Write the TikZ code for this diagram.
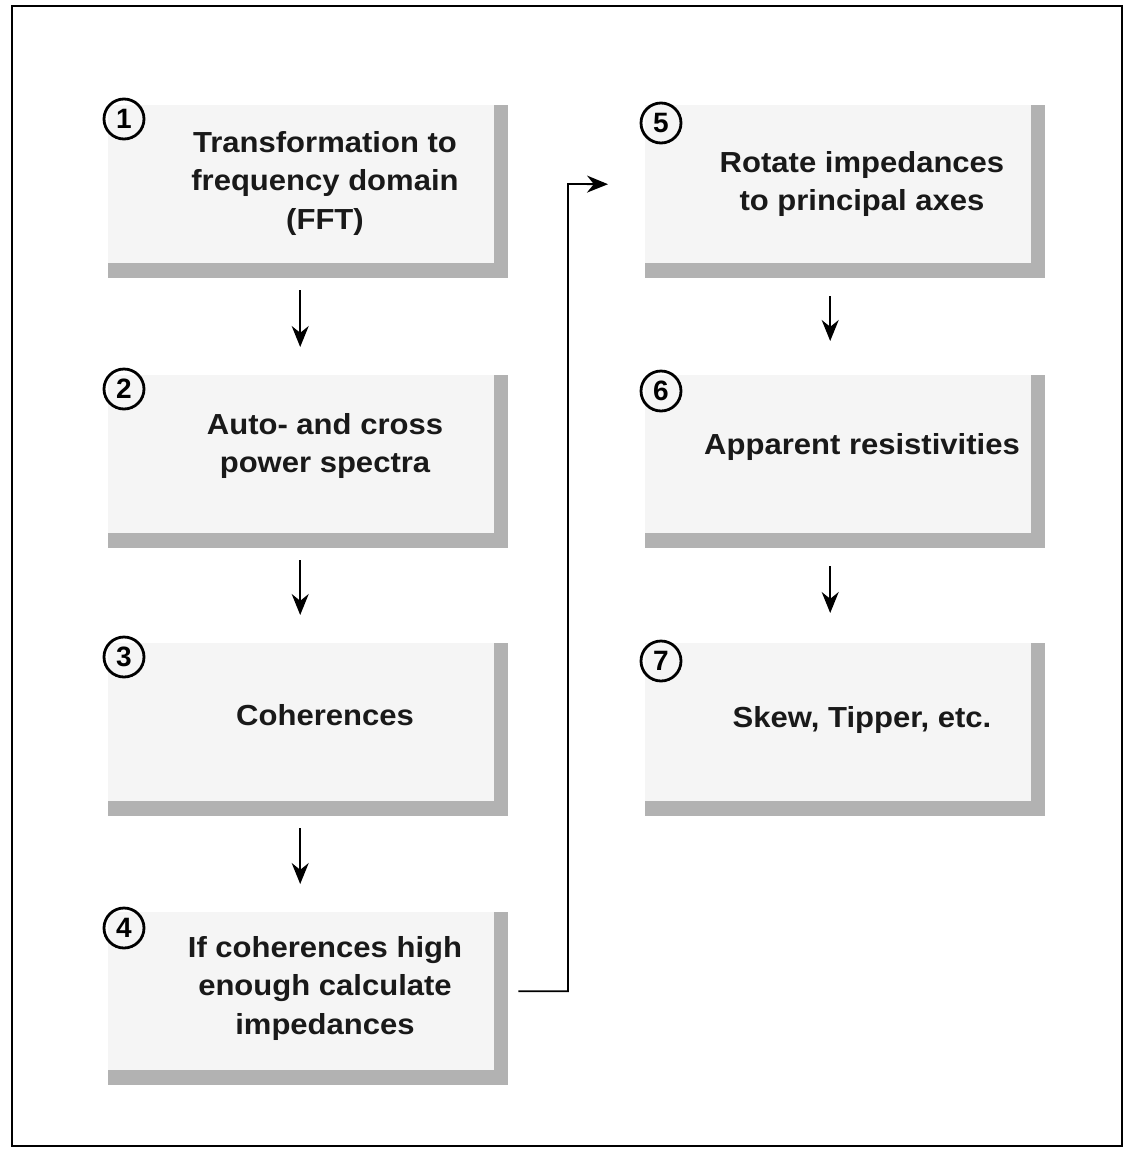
\documentclass[tikz,border=0pt]{standalone}
\usepackage{fontspec}
\setmainfont{Liberation Sans}
\newfontfamily\stretchfont[FakeStretch=1.07]{Liberation Sans}
\usetikzlibrary{arrows.meta}
\begin{document}
\begin{tikzpicture}[x=1pt,y=-1pt,
  stepbox/.style={fill=black!4, draw=none, minimum width=386pt, minimum height=158pt, inner sep=0pt, anchor=north west},
  steplabel/.style={font=\stretchfont\bfseries\fontsize{29}{38.5}\selectfont, align=center, text=black!90},
  num/.style={circle, draw, line width=2.8pt, minimum size=40pt, inner sep=0pt, font=\bfseries\fontsize{28}{28}\selectfont},
  arr/.style={line width=1.8pt, -{Stealth[length=21pt,width=17pt]}},
  shade/.style={fill=black!30}]
\useasboundingbox (0,0) rectangle (1124,1149);
\fill[white] (0,0) rectangle (1124,1149);
\draw[line width=2pt] (12,6) rectangle (1122,1146);

% boxes
\node[stepbox] (b1) at (108,105) {};
\node[stepbox] (b2) at (108,375) {};
\node[stepbox] (b3) at (108,643) {};
\node[stepbox] (b4) at (108,912) {};
\node[stepbox] (b5) at (645,105) {};
\node[stepbox] (b6) at (645,375) {};
\node[stepbox] (b7) at (645,643) {};

\foreach \b in {b1,b2,b3,b4,b5,b6,b7}{
  \fill[shade] (\b.north east) rectangle ([shift={(14,15)}]\b.south east);
  \fill[shade] (\b.south west) rectangle ([shift={(14,15)}]\b.south east);
}

% numbers
\node[num] (n1) at ([shift={(16,14)}]b1.north west) {1};
\node[num] (n2) at ([shift={(16,14)}]b2.north west) {2};
\node[num] (n3) at ([shift={(16,14)}]b3.north west) {3};
\node[num] (n4) at ([shift={(16,16)}]b4.north west) {4};
\node[num] (n5) at ([shift={(16,18)}]b5.north west) {5};
\node[num] (n6) at ([shift={(16,16)}]b6.north west) {6};
\node[num] (n7) at ([shift={(16,18)}]b7.north west) {7};

% texts
\node[steplabel] (t1) at (325,183) {Transformation to\\frequency domain\\(FFT)};
\node[steplabel] (t2) at (325,446) {Auto- and cross\\power spectra};
\node[steplabel] (t3) at (325,715) {Coherences};
\node[steplabel] (t4) at (325,988) {If coherences high\\enough calculate\\impedances};
\node[steplabel] (t5) at (862,184) {Rotate impedances\\to principal axes};
\node[steplabel] (t6) at (862,447) {Apparent resistivities};
\node[steplabel] (t7) at (862,720) {Skew, Tipper, etc.};

% arrows
\draw[arr, shorten <=27pt, shorten >=28pt] ([xshift=-1pt]b1.south) -- ([xshift=-1pt]b2.north);
\draw[arr, shorten <=27pt, shorten >=28pt] ([xshift=-1pt]b2.south) -- ([xshift=-1pt]b3.north);
\draw[arr, shorten <=27pt, shorten >=28pt] ([xshift=-1pt]b3.south) -- ([xshift=-1pt]b4.north);
\draw[arr, shorten <=33pt, shorten >=34pt] ([xshift=-8pt]b5.south) -- ([xshift=-8pt]b6.north);
\draw[arr, shorten <=33pt, shorten >=30pt] ([xshift=-8pt]b6.south) -- ([xshift=-8pt]b7.north);

\coordinate (k) at (568,184);
\draw[arr] ([xshift=24pt]b4.east) -| (k) -- ([xshift=-37pt]b5.west);
\end{tikzpicture}
\end{document}
